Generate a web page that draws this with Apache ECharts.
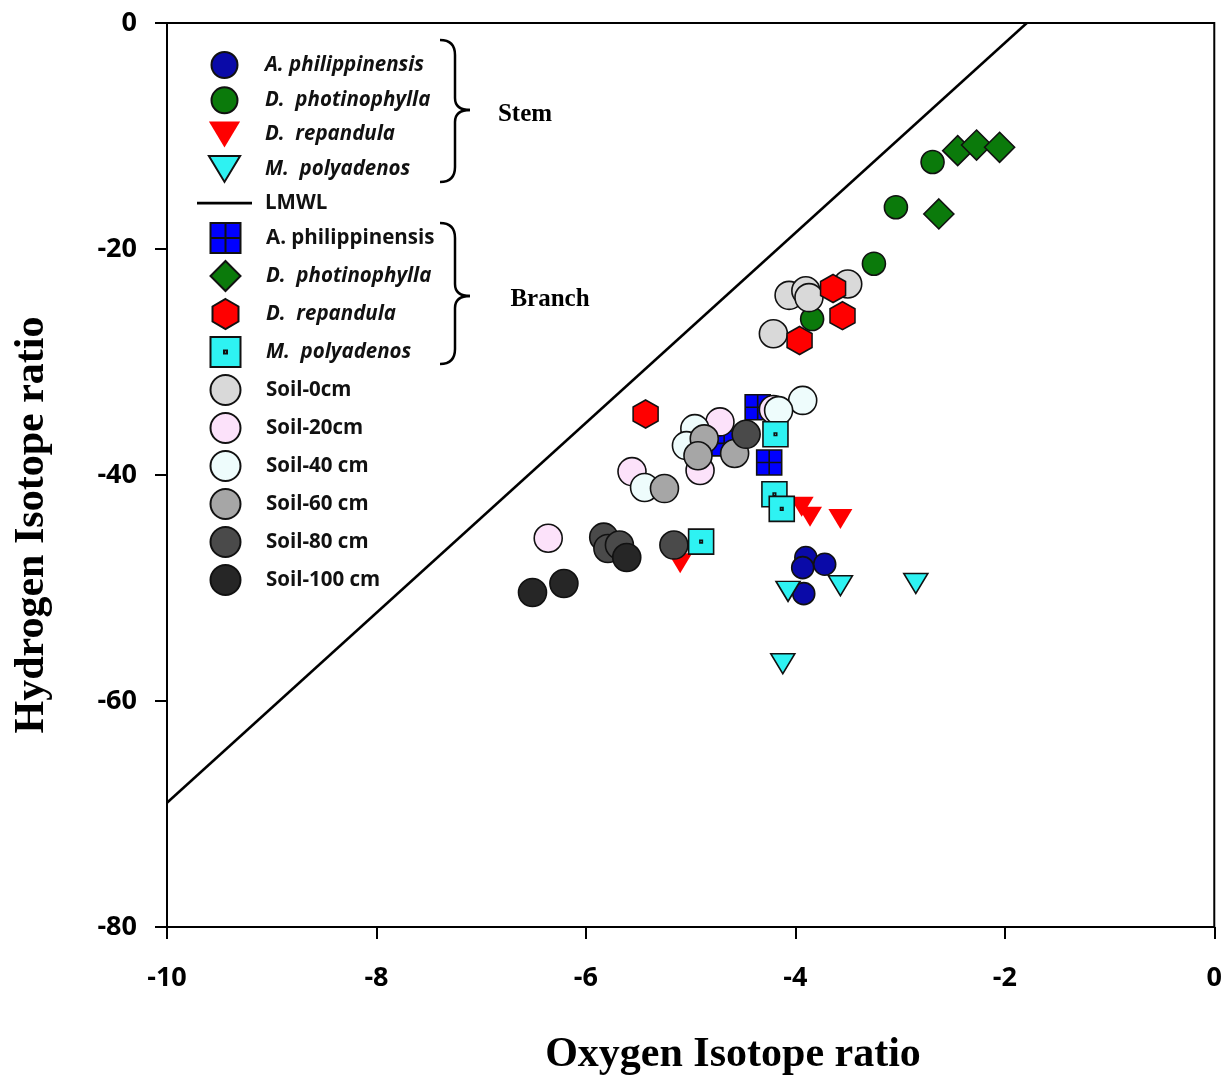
<!DOCTYPE html>
<html>
<head>
<meta charset="utf-8">
<script src="https://cdn.jsdelivr.net/npm/echarts@6/dist/echarts.min.js"></script>
<style>
    html, body { margin: 0; padding: 0; background: #fff; }
    #main { width: 1225px; height: 1079px; }
</style>
</head>
<body>
<div id="main"></div>
<script>
// values (oxygen ratio = x, hydrogen ratio = y)
var stemAphilX = [-3.90, -3.72, -3.93, -3.92];
var stemAphilY = [-47.3, -47.9, -48.2, -50.5];
var stemDphotX = [-2.69, -3.04, -3.25, -3.84];
var stemDphotY = [-12.3, -16.3, -21.3, -26.2];
var stemDrepX = [-3.94, -3.86, -3.57, -5.10];
var stemDrepY = [-42.8, -43.7, -43.9, -47.8];
var stemMpolX = [-4.07, -3.57, -2.85, -4.12];
var stemMpolY = [-50.3, -49.8, -49.6, -56.7];

var lmwlX = [-10, -1.79];
var lmwlY = [-69.0, 0];

var branchAphilX = [-4.36, -4.68, -4.25];
var branchAphilY = [-34.0, -37.2, -38.9];
var branchDphotX = [-2.45, -2.27, -2.05, -2.63];
var branchDphotY = [-11.3, -10.8, -11.0, -16.9];
var branchDrepX = [-3.64, -3.55, -3.96, -5.43];
var branchDrepY = [-23.5, -25.9, -28.1, -34.6];
var branchMpolX = [-4.19, -4.20, -4.13, -4.90];
var branchMpolY = [-36.4, -41.7, -43.0, -45.9];

var soil0X = [-4.06, -3.90, -3.87, -3.50, -4.21];
var soil0Y = [-24.1, -23.7, -24.3, -23.1, -27.5];
var soil20X = [-4.72, -4.91, -5.56, -6.36, -4.21];
var soil20Y = [-35.3, -39.6, -39.7, -45.6, -34.2];
var soil40X = [-3.93, -4.16, -5.44, -4.96, -5.04];
var soil40Y = [-33.4, -34.3, -41.1, -35.9, -37.4];
var soil60X = [-4.87, -4.93, -4.58, -5.25];
var soil60Y = [-36.8, -38.3, -38.1, -41.2];
var soil80X = [-4.47, -5.83, -5.79, -5.68, -5.16];
var soil80Y = [-36.4, -45.5, -46.5, -46.2, -46.2];
var soil100X = [-5.61, -6.51, -6.21];
var soil100Y = [-47.3, -50.4, -49.6];

var xTicks = [-10, -8, -6, -4, -2, 0];
var yTicks = [-80, -60, -40, -20, 0];

var labels = {
    sA: 'A. philippinensis', sD: 'D.  photinophylla', sR: 'D.  repandula', sM: 'M.  polyadenos',
    lmwl: 'LMWL',
    bA: 'A. philippinensis', bD: 'D.  photinophylla', bR: 'D.  repandula', bM: 'M.  polyadenos',
    s0: 'Soil-0cm', s20: 'Soil-20cm', s40: 'Soil-40 cm', s60: 'Soil-60 cm', s80: 'Soil-80 cm', s100: 'Soil-100 cm'
};

var downTri = 'path://M0,0L24,0L12,20Z';
var hexagon = 'path://M10,0L18.66,5L18.66,15L10,20L1.34,15L1.34,5Z';
var diamond = 'path://M10,0L20,10L10,20L0,10Z';
var crossSq = 'path://M0,0H10V10H0Z M10,0H20V10H10Z M0,10H10V20H0Z M10,10H20V20H10Z';
var dotSq = 'path://M0,0H20V20H0Z M9,9H11V11H9Z';
var lineIcon = 'path://M0,0H50V2.5H0Z';

function pairs(xs, ys) {
    var out = [];
    for (var i = 0; i < xs.length; i++) out.push([xs[i], ys[i]]);
    return out;
}

function pts(id, xs, ys, symbol, size, color, border) {
    return {
        id: id, name: id, type: 'scatter',
        data: pairs(xs, ys),
        symbol: symbol, symbolSize: size,
        itemStyle: {
            color: color, opacity: 1,
            borderColor: border ? '#111' : color,
            borderWidth: border ? 1.6 : 0
        },
        emphasis: { disabled: true }
    };
}

// curly brace built from a few curves, tip pointing right
function brace(x0, top, tip, bot) {
    var xm = x0 + 15, xt = x0 + 30;
    var st = { stroke: '#000', lineWidth: 2.5, fill: null };
    var parts = [
        { type: 'bezierCurve', shape: { x1: x0, y1: top, cpx1: xm, cpy1: top, x2: xm, y2: top + 15 } },
        { type: 'line', shape: { x1: xm, y1: top + 15, x2: xm, y2: tip - 12 } },
        { type: 'bezierCurve', shape: { x1: xm, y1: tip - 12, cpx1: xm, cpy1: tip, x2: xt, y2: tip } },
        { type: 'bezierCurve', shape: { x1: xt, y1: tip, cpx1: xm, cpy1: tip, x2: xm, y2: tip + 12 } },
        { type: 'line', shape: { x1: xm, y1: tip + 12, x2: xm, y2: bot - 15 } },
        { type: 'bezierCurve', shape: { x1: xm, y1: bot - 15, cpx1: xm, cpy1: bot, x2: x0, y2: bot } }
    ];
    parts.forEach(function (p) { p.style = st; p.silent = true; });
    return parts;
}

function legendText(h) {
    return { fontFamily: 'Open Sans', fontWeight: 'bold', fontSize: 20.5, lineHeight: h, color: '#111', padding: [0, 0, 0, 8] };
}
var ital = { fontStyle: 'italic' };

var chart = echarts.init(document.getElementById('main'));

var option = {
    animation: false,
    backgroundColor: '#fff',
    grid: { left: 167, right: 10, top: 23, bottom: 152, show: true, borderColor: '#000', borderWidth: 2 },
    xAxis: {
        type: 'value', min: -10, max: 0, interval: 2,
        axisLine: { onZero: false, lineStyle: { color: '#000', width: 2 } },
        axisTick: { inside: false, length: 12, lineStyle: { color: '#000', width: 2 } },
        axisLabel: {
            margin: 38, color: '#000', fontFamily: 'Open Sans', fontWeight: 'bold', fontSize: 27,
            formatter: function (v) { return xTicks.indexOf(v) >= 0 ? String(v) : ''; }
        },
        splitLine: { show: false }
    },
    yAxis: {
        type: 'value', min: -80, max: 0, interval: 20,
        axisLine: { onZero: false, lineStyle: { color: '#000', width: 2 } },
        axisTick: { inside: false, length: 12, lineStyle: { color: '#000', width: 2 } },
        axisLabel: {
            margin: 30, color: '#000', fontFamily: 'Open Sans', fontWeight: 'bold', fontSize: 27,
            formatter: function (v) { return yTicks.indexOf(v) >= 0 ? String(v) : ''; }
        },
        splitLine: { show: false }
    },
    legend: [{
        orient: 'vertical', left: 197, top: 51, padding: 0,
        itemWidth: 55, itemHeight: 26, itemGap: 7.3,
        selectedMode: false,
        textStyle: legendText(26),
        formatter: function (n) { return labels[n]; },
        data: [
            { name: 'sA', textStyle: ital }, { name: 'sD', textStyle: ital },
            { name: 'sR', textStyle: ital }, { name: 'sM', textStyle: ital },
            { name: 'lmwl', icon: lineIcon }
        ]
    }, {
        // widest icon is 30px inside a 55px slot, so the box starts 12.5px in
        orient: 'vertical', left: 209.5, top: 222, padding: 0,
        itemWidth: 55, itemHeight: 30, itemGap: 6,
        selectedMode: false,
        textStyle: legendText(30),
        formatter: function (n) { return labels[n]; },
        data: [
            { name: 'bA' }, { name: 'bD', textStyle: ital },
            { name: 'bR', textStyle: ital }, { name: 'bM', textStyle: ital },
            's0', 's20', 's40', 's60', 's80', 's100'
        ]
    }],
    graphic: brace(440, 40, 110, 182).concat(brace(440, 223, 296, 364)).concat([
        { type: 'text', x: 525, y: 115, silent: true,
          style: { text: 'Stem', font: 'bold 25px "Liberation Serif"', fill: '#000', align: 'center', verticalAlign: 'middle' } },
        { type: 'text', x: 550, y: 300, silent: true,
          style: { text: 'Branch', font: 'bold 25px "Liberation Serif"', fill: '#000', align: 'center', verticalAlign: 'middle' } },
        { type: 'text', x: 733, y: 1055, silent: true,
          style: { text: 'Oxygen Isotope ratio', font: 'bold 42px "Liberation Serif"', fill: '#000', align: 'center', verticalAlign: 'middle' } },
        { type: 'text', x: 32, y: 525, rotation: Math.PI / 2, silent: true,
          style: { text: 'Hydrogen Isotope ratio', font: 'bold 42px "Liberation Serif"', fill: '#000', align: 'center', verticalAlign: 'middle' } }
    ]),
    series: [
        pts('sA', stemAphilX, stemAphilY, 'circle', 22, '#0a0aa8', true),
        pts('sD', stemDphotX, stemDphotY, 'circle', 23, '#0b7a0b', true),
        pts('sR', stemDrepX, stemDrepY, downTri, [24, 20], '#ff0000', false),
        pts('sM', stemMpolX, stemMpolY, downTri, [24, 20], '#2ef2f2', true),
        {
            id: 'lmwl', name: 'lmwl', type: 'line',
            data: pairs(lmwlX, lmwlY),
            symbol: 'none', silent: true,
            lineStyle: { color: '#000', width: 2.5 },
            itemStyle: { color: '#000' }
        },
        pts('bA', branchAphilX, branchAphilY, crossSq, 25, '#0000ff', true),
        pts('s0', soil0X, soil0Y, 'circle', 28, '#d9d9d9', true),
        pts('s20', soil20X, soil20Y, 'circle', 28, '#fce2fa', true),
        pts('s40', soil40X, soil40Y, 'circle', 28, '#eefcfc', true),
        pts('s60', soil60X, soil60Y, 'circle', 28, '#a6a6a6', true),
        pts('s80', soil80X, soil80Y, 'circle', 28, '#4a4a4a', true),
        pts('s100', soil100X, soil100Y, 'circle', 28, '#262626', true),
        pts('bD', branchDphotX, branchDphotY, diamond, 30, '#0b7a0b', true),
        pts('bR', branchDrepX, branchDrepY, hexagon, [25, 28], '#ff0000', true),
        pts('bM', branchMpolX, branchMpolY, dotSq, 25, '#2ef2f2', true)
    ]
};

chart.setOption(option);
</script>
</body>
</html>
